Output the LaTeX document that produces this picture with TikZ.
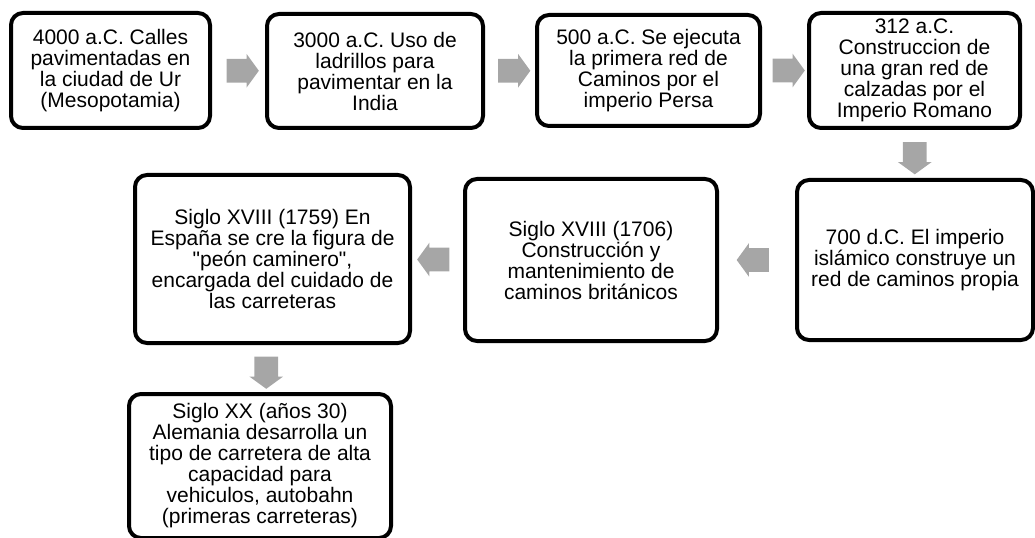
\documentclass[tikz,border=0pt]{standalone}
\usepackage{fontspec}
\setmainfont{Liberation Sans}
\usetikzlibrary{shapes.arrows,calc}
\definecolor{gris}{HTML}{A6A6A6}

\begin{document}
\begin{tikzpicture}[x=0.75pt,y=-0.75pt, line join=round,
	caja/.style={draw, line width=3pt, rounded corners=9pt, align=center, inner sep=0pt,
		font=\fontsize{15.75pt}{15.75pt}\selectfont},
	flecha/.style={single arrow, fill=gris, draw=none, inner sep=11.5*0.75pt,
		minimum height=29*0.75pt,
		single arrow head extend=5*0.75pt, single arrow tip angle=108}]
	\useasboundingbox (0,0) rectangle (1035,538);
	\clip (0,0) rectangle (1035,538);
	% fila de arriba
	\node[caja, minimum width=199*0.75pt, minimum height=115*0.75pt] (c1) at (110.5,70.5)
		{4000 a.C. Calles\\pavimentadas en\\la ciudad de Ur\\(Mesopotamia)};
	\node[caja, minimum width=216*0.75pt, minimum height=114*0.75pt] (c2) at (375,71)
		{3000 a.C. Uso de\\ladrillos para\\pavimentar en la\\India};
	\node[caja, minimum width=223*0.75pt, minimum height=111*0.75pt] (c3) at (648.5,70.5)
		{500 a.C. Se ejecuta\\la primera red de\\Caminos por el\\imperio Persa};
	\node[caja, minimum width=211*0.75pt, minimum height=115*0.75pt] (c4) at (914.5,70.5)
		{312 a.C.\\Construccion de\\una gran red de\\calzadas por el\\Imperio Romano};
	% fila del medio
	\node[caja, minimum width=236*0.75pt, minimum height=160*0.75pt] (c5) at (915,260)
		{700 d.C. El imperio\\islámico construye un\\red de caminos propia};
	\node[caja, minimum width=252*0.75pt, minimum height=162*0.75pt] (c6) at (591,260)
		{Siglo XVIII (1706)\\Construcción y\\mantenimiento de\\caminos británicos};
	\node[caja, minimum width=275*0.75pt, minimum height=168*0.75pt] (c7) at (272.5,259)
		{Siglo XVIII (1759) En\\España se cre la figura de\\\textquotedbl peón caminero\textquotedbl,\\encargada del cuidado de\\las carreteras};
	% abajo
	\node[caja, minimum width=262*0.75pt, minimum height=144*0.75pt] (c8) at (260,466)
		{Siglo XX (años 30)\\Alemania desarrolla un\\tipo de carretera de alta\\capacidad para\\vehiculos, autobahn\\(primeras carreteras)};
	% flechas
	\node[flecha] (f1) at ($(c1.east)!0.5!(c2.west)$) {};
	\node[flecha] (f2) at ($(c2.east)!0.5!(c3.west)$) {};
	\node[flecha] (f3) at ($(c3.east)!0.5!(c4.west)$) {};
	\node[flecha, shape border rotate=270] (f4) at ($(c4.south)!0.5!(c5.north)$) {};
	\node[flecha, shape border rotate=180] (f5) at ($(c5.west)!0.5!(c6.east)$) {};
	\node[flecha, shape border rotate=180] (f6) at ($(c6.west)!0.5!(c7.east)$) {};
	\node[flecha, shape border rotate=270] (f7) at ($(c7.south)!0.5!(c8.north)$) {};
\end{tikzpicture}
\end{document}
